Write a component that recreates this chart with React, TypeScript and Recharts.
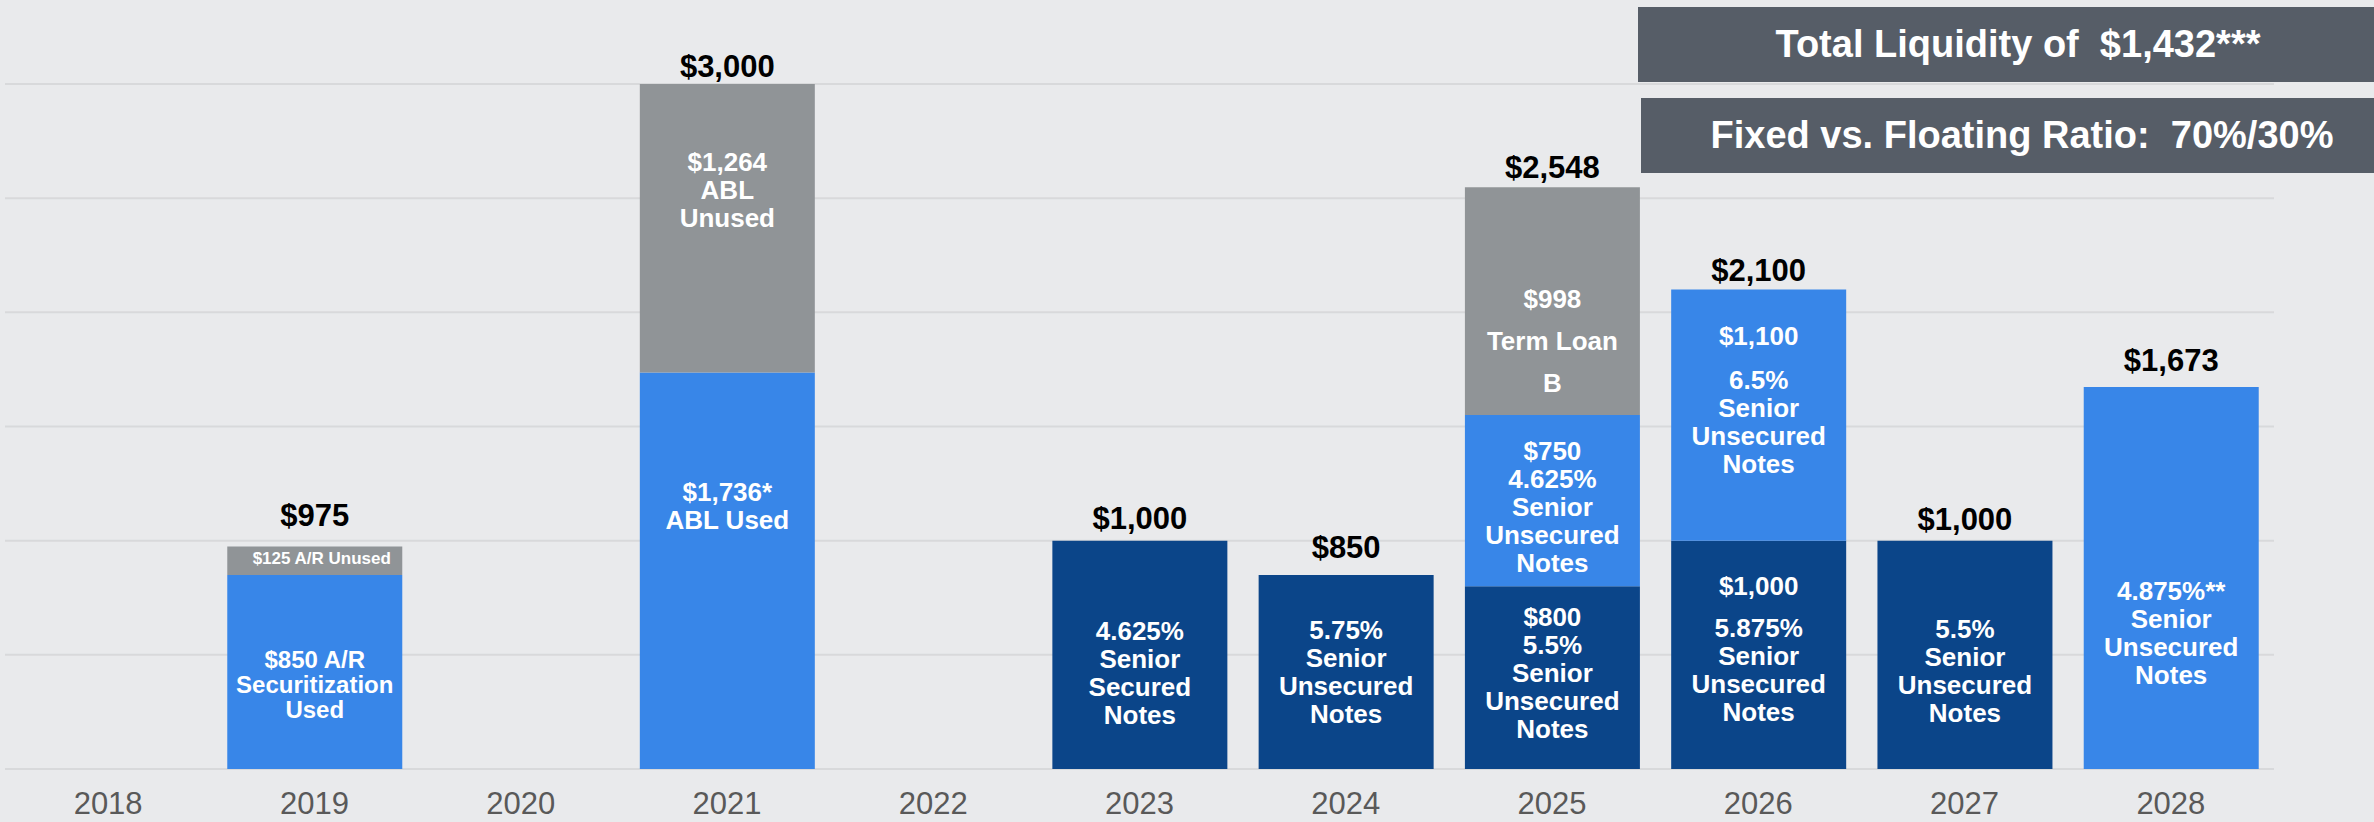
import React from 'react';
import { BarChart, Bar, XAxis, YAxis, CartesianGrid, LabelList } from 'recharts';

// ---------- data ----------
const YEARS = ['2018', '2019', '2020', '2021', '2022', '2023', '2024', '2025', '2026', '2027', '2028'];
const SENIOR_NOTES = [0, 0, 0, 0, 0, 1000, 850, 800, 1000, 1000, 0];
const FACILITY_USED = [0, 850, 0, 1736, 0, 0, 0, 750, 1100, 0, 1673];
const UNUSED = [0, 125, 0, 1264, 0, 0, 0, 998, 0, 0, 0];
const Y_TICKS = [0, 500, 1000, 1500, 2000, 2500, 3000];

const NOTES_LABELS: string[][] = [
  [], [], [], [], [],
  ['4.625%', 'Senior', 'Secured', 'Notes'],
  ['5.75%', 'Senior', 'Unsecured', 'Notes'],
  ['$800', '5.5%', 'Senior', 'Unsecured', 'Notes'],
  ['$1,000', '5.875%', 'Senior', 'Unsecured', 'Notes'],
  ['5.5%', 'Senior', 'Unsecured', 'Notes'],
  [],
];
const USED_LABELS: string[][] = [
  [],
  ['$850 A/R', 'Securitization', 'Used'],
  [],
  ['$1,736*', 'ABL Used'],
  [], [], [],
  ['$750', '4.625%', 'Senior', 'Unsecured', 'Notes'],
  ['$1,100', '6.5%', 'Senior', 'Unsecured', 'Notes'],
  [],
  ['4.875%**', 'Senior', 'Unsecured', 'Notes'],
];
const UNUSED_LABELS: string[][] = [
  [],
  ['$125 A/R Unused'],
  [],
  ['$1,264', 'ABL', 'Unused'],
  [], [], [],
  ['$998', 'Term Loan', 'B'],
  [], [], [],
];

const HEADLINE_LIQUIDITY = 'Total Liquidity of  $1,432***';
const HEADLINE_RATIO = 'Fixed vs. Floating Ratio:  70%/30%';

// ---------- styles ----------
const FONT = '"Liberation Sans", Arial, Helvetica, sans-serif';
const COLORS = { notes: '#0B4589', used: '#3886E8', unused: '#909497' };
const BG = '#E9EAEC';

type LabelStyle = { nudge?: number; dx?: number; size?: number; gap?: number; firstGap?: number };
const LABEL_STYLE: Record<string, LabelStyle> = {
  'used-2019': { nudge: 12, size: 24, gap: 25 },
  'unused-2019': { nudge: -3, size: 17, dx: 7 },
  'unused-2021': { nudge: -39 },
  'used-2021': { nudge: -65 },
  'notes-2023': { nudge: 18 },
  'notes-2025': { nudge: -5 },
  'used-2025': { nudge: 6 },
  'unused-2025': { nudge: 39, gap: 42 },
  'used-2026': { nudge: -15, firstGap: 44 },
  'notes-2026': { nudge: -6, firstGap: 42 },
  'notes-2027': { nudge: 16 },
  'used-2028': { nudge: 55 },
};
const TOTAL_GAP: Record<string, number> = {
  '2019': 20, '2021': 7, '2023': 12, '2024': 17, '2025': 9, '2026': 9, '2027': 11, '2028': 16,
};

const data = YEARS.map((year, i) => ({
  year,
  notes: SENIOR_NOTES[i],
  used: FACILITY_USED[i],
  unused: UNUSED[i],
}));

const LABELS: Record<string, string[][]> = { notes: NOTES_LABELS, used: USED_LABELS, unused: UNUSED_LABELS };
const VALUES: Record<string, number[]> = { notes: SENIOR_NOTES, used: FACILITY_USED, unused: UNUSED };

function topKey(i: number): string | null {
  if (UNUSED[i] > 0) return 'unused';
  if (FACILITY_USED[i] > 0) return 'used';
  if (SENIOR_NOTES[i] > 0) return 'notes';
  return null;
}

function geom(props: any) {
  const vb = props.viewBox || {};
  const x = Number(props.x ?? vb.x);
  const y = Number(props.y ?? vb.y);
  const w = Number(props.width ?? vb.width);
  const h = Number(props.height ?? vb.height);
  return { x, y, w, h };
}

const makeInner = (key: string) => (props: any) => {
  const year = String(props.value);
  const i = YEARS.indexOf(year);
  if (i < 0) return null;
  const lines = LABELS[key][i];
  if (!lines || lines.length === 0 || VALUES[key][i] <= 0) return null;
  const { x, y, w, h } = geom(props);
  const st = LABEL_STYLE[`${key}-${year}`] || {};
  const size = st.size ?? 26;
  const gap = st.gap ?? 28;
  const firstGap = st.firstGap ?? gap;
  const pos: number[] = [0];
  for (let k = 1; k < lines.length; k++) pos.push(pos[k - 1] + (k === 1 ? firstGap : gap));
  const span = pos[pos.length - 1];
  const cy = y + h / 2 + (st.nudge ?? 0);
  const cx = x + w / 2 + (st.dx ?? 0);
  return (
    <g>
      {lines.map((ln, k) => (
        <text
          key={k}
          x={cx}
          y={cy - span / 2 + pos[k] + size * 0.36}
          textAnchor="middle"
          fill="#FFFFFF"
          fontFamily={FONT}
          fontWeight="bold"
          fontSize={size}
        >
          {ln}
        </text>
      ))}
    </g>
  );
};

const makeTotal = (key: string) => (props: any) => {
  const year = String(props.value);
  const i = YEARS.indexOf(year);
  if (i < 0 || topKey(i) !== key) return null;
  const { x, y, w } = geom(props);
  const total = SENIOR_NOTES[i] + FACILITY_USED[i] + UNUSED[i];
  return (
    <text
      x={x + w / 2}
      y={y - (TOTAL_GAP[year] ?? 12)}
      textAnchor="middle"
      fill="#000000"
      fontFamily={FONT}
      fontWeight="bold"
      fontSize={31}
    >
      {'$' + total.toLocaleString('en-US')}
    </text>
  );
};

const boxStyle: React.CSSProperties = {
  position: 'absolute',
  background: '#565D67',
  color: '#FFFFFF',
  fontFamily: FONT,
  fontWeight: 'bold',
  fontSize: 38,
  height: 75,
  lineHeight: '75px',
  textAlign: 'center',
  whiteSpace: 'pre',
};

export default function App() {
  return (
    <div
      style={{
        position: 'absolute',
        left: 0,
        top: 0,
        width: 2374,
        height: 822,
        background: BG,
        overflow: 'hidden',
      }}
    >
      <BarChart
        width={2374}
        height={822}
        data={data}
        margin={{ top: 84, left: 5, right: 100, bottom: 3 }}
        barSize={175}
      >
        <CartesianGrid vertical={false} stroke="#D8D9DB" strokeWidth={2} />
        <YAxis hide domain={[0, 3000]} ticks={Y_TICKS} />
        <XAxis
          dataKey="year"
          interval={0}
          height={50}
          tickLine={false}
          axisLine={false}
          tickSize={0}
          tickMargin={23}
          tick={{ fill: '#595959', fontSize: 31, fontFamily: FONT }}
        />
        <Bar dataKey="notes" stackId="s" fill={COLORS.notes} isAnimationActive={false}>
          <LabelList dataKey="year" content={makeInner('notes')} />
          <LabelList dataKey="year" content={makeTotal('notes')} />
        </Bar>
        <Bar dataKey="used" stackId="s" fill={COLORS.used} isAnimationActive={false}>
          <LabelList dataKey="year" content={makeInner('used')} />
          <LabelList dataKey="year" content={makeTotal('used')} />
        </Bar>
        <Bar dataKey="unused" stackId="s" fill={COLORS.unused} isAnimationActive={false}>
          <LabelList dataKey="year" content={makeInner('unused')} />
          <LabelList dataKey="year" content={makeTotal('unused')} />
        </Bar>
      </BarChart>
      <div style={{ ...boxStyle, left: 1638, top: 7, width: 760 }}>{HEADLINE_LIQUIDITY}</div>
      <div style={{ ...boxStyle, left: 1641, top: 98, width: 762 }}>{HEADLINE_RATIO}</div>
    </div>
  );
}
